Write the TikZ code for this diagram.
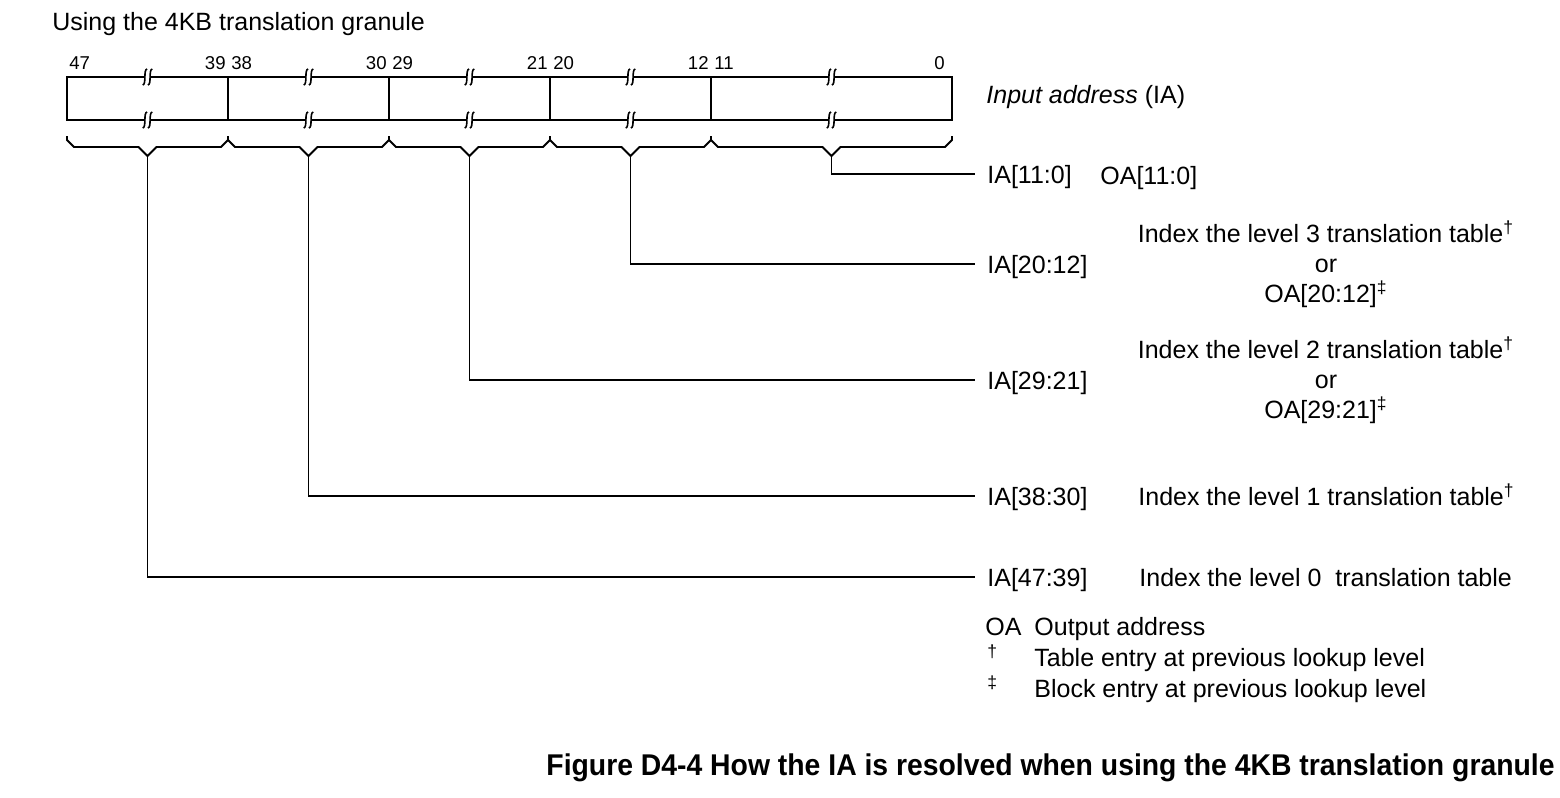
\documentclass[tikz,border=0pt]{standalone}
\usepackage{fontspec}
\setmainfont{Liberation Sans}
\newfontfamily\capfont[FakeStretch=0.945]{Liberation Sans}
\begin{document}
\begin{tikzpicture}[x=0.5pt,y=-0.5pt,
  txt/.style={inner sep=0pt, anchor=base west, font=\fontsize{12.5}{15}\selectfont},
  ctxt/.style={inner sep=0pt, anchor=base, font=\fontsize{12.5}{15}\selectfont},
  bit/.style={inner sep=0pt, font=\fontsize{9.3}{11}\selectfont},
  ialbl/.style={anchor=west, inner xsep=6pt, inner ysep=0pt, text height=9.3pt, text depth=0pt, font=\fontsize{12.5}{15}\selectfont},
  boxline/.style={line width=1.25pt},
  conn/.style={line width=0.9pt},
  brk/.style={line width=0.8pt}]
\fill[white] (0,0) rectangle (1560,798);
\useasboundingbox (0,0) rectangle (1560,798);

% title
\node[txt] (title) at (52,30) {Using the 4KB translation granule};

% register box
\draw[boxline] (67,77) rectangle (952,120);
\foreach \d in {228,389,550,711} \draw[boxline] (\d,77) -- (\d,120);

% break marks
\foreach \x in {147.5,308.5,469.5,630.5,831.5} {
  \foreach \y in {77,120} {
    \fill[white] ({\x-2.6},{\y-2}) rectangle ({\x+2.6},{\y+2});
    \foreach \o in {-2.6,2.6} {
      \draw[brk] ({\x+\o+2.2},{\y-8}) .. controls ({\x+\o-1.8},{\y-7.5}) and ({\x+\o+1.8},{\y+7.5}) .. ({\x+\o-2.2},{\y+8});
    }
  }
}

% bit numbers
\node[bit, anchor=base west] (b47) at (69,69) {47};
\node[bit, anchor=base east] (b39) at (226,69) {39};
\node[bit, anchor=base west] (b38) at (231,69) {38};
\node[bit, anchor=base east] (b30) at (387,69) {30};
\node[bit, anchor=base west] (b29) at (392,69) {29};
\node[bit, anchor=base east] (b21) at (548,69) {21};
\node[bit, anchor=base west] (b20) at (553,69) {20};
\node[bit, anchor=base east] (b12) at (709,69) {12};
\node[bit, anchor=base west] (b11) at (714,69) {11};
\node[bit, anchor=base east] (b0) at (945,69) {0};

\node[txt] (ianame) at (986,103) {\textit{Input address} (IA)};

% braces
\foreach \a/\b/\n in {67/228/4,228/389/3,389/550/2,550/711/1,711/952/0} {
  \pgfmathsetmacro{\m}{(\a+\b)/2}
  \draw[conn, line join=miter] (\a,136) -- (\a,140) -- ({\a+7},147) -- ({\m-9},147) -- (\m,156) -- ({\m+9},147) -- ({\b-7},147) -- (\b,140) -- (\b,136);
  \coordinate (t\n) at (\m,156);
}

% IA field labels
\node[ialbl] (ia0) at (975,174) {IA[11:0]};
\node[ialbl] (ia1) at (975,264) {IA[20:12]};
\node[ialbl] (ia2) at (975,380) {IA[29:21]};
\node[ialbl] (ia3) at (975,496) {IA[38:30]};
\node[ialbl] (ia4) at (975,577) {IA[47:39]};

\foreach \i in {0,...,4} \draw[conn] (t\i) |- (ia\i.west);

% descriptions
\node[txt] (oa0) at (1100,184) {OA[11:0]};

\node[ctxt] (l3a) at (1326,242) {Index the level 3 translation table\textsuperscript{†}};
\node[ctxt] (l3b) at (1326,272) {or};
\node[ctxt] (l3c) at (1326,302) {OA[20:12]\textsuperscript{‡}};

\node[ctxt] (l2a) at (1326,358) {Index the level 2 translation table\textsuperscript{†}};
\node[ctxt] (l2b) at (1326,388) {or};
\node[ctxt] (l2c) at (1326,418) {OA[29:21]\textsuperscript{‡}};

\node[txt] (l1) at (1138,505) {Index the level 1 translation table\textsuperscript{†}};
\node[txt] (l0) at (1139,586) {Index the level 0\ \ translation table};

% legend
\node[txt] (kOA) at (985,635) {OA};
\node[txt] (vOA) at (1034,635) {Output address};
\node[txt] (kdag) at (987,666) {\textsuperscript{†}};
\node[txt] (vdag) at (1034,666) {Table entry at previous lookup level};
\node[txt] (kddag) at (987,697) {\textsuperscript{‡}};
\node[txt] (vddag) at (1034,697) {Block entry at previous lookup level};

% caption
\node[inner sep=0pt, anchor=base east, font=\capfont\bfseries\fontsize{15}{18}\selectfont] (cap) at (1555,775) {Figure D4-4 How the IA is resolved when using the 4KB translation granule};
\end{tikzpicture}
\end{document}
